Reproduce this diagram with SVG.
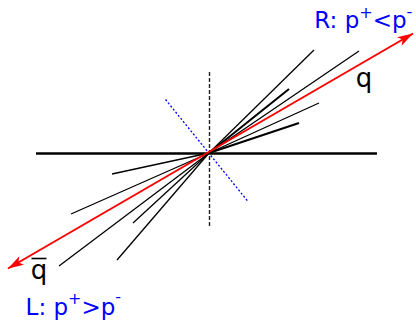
<svg xmlns="http://www.w3.org/2000/svg" width="416" height="325" viewBox="0 0 416 325">
<style>
.jet{stroke:#000;stroke-width:1.3;fill:none}
.jetb{stroke:#000;stroke-width:2;fill:none}
.lbl{font-family:"DejaVu Sans","Liberation Sans",sans-serif;font-size:23px}
.q{font-family:"DejaVu Sans","Liberation Sans",sans-serif;font-size:26px;fill:#000}
.blue{fill:#0000ff}
.sup{font-size:16px}
</style>
<defs>
<marker id="arr" viewBox="0 0 16 10" refX="16" refY="5" markerWidth="16" markerHeight="10" markerUnits="userSpaceOnUse" orient="auto-start-reverse">
<path d="M0,0 L16,5 L0,10 L4,5 Z" fill="#ff0000"/>
</marker>
</defs>
<g id="axes">
<line x1="36" y1="153.5" x2="377" y2="153.5" stroke="#000" stroke-width="2.5"/>
<line x1="209.5" y1="72" x2="209.5" y2="226" stroke="#222" stroke-width="1.4" stroke-dasharray="4,2"/>
<line x1="165.5" y1="99.5" x2="248" y2="201.5" stroke="#0000ff" stroke-width="1.3" stroke-dasharray="2,2"/>
</g>
<g id="jets">
<line class="jet" x1="209" y1="153" x2="314" y2="50"/>
<line class="jetb" x1="209" y1="153" x2="289" y2="89"/>
<line class="jet" x1="209" y1="153" x2="359" y2="51"/>
<line class="jet" x1="209" y1="153" x2="319" y2="103"/>
<line class="jetb" x1="209" y1="153" x2="299" y2="123"/>
<line class="jet" x1="209" y1="153" x2="112" y2="174"/>
<line class="jet" x1="209" y1="153" x2="71" y2="214"/>
<line class="jet" x1="209" y1="153" x2="59" y2="266"/>
<line class="jet" x1="209" y1="153" x2="133" y2="223"/>
<line class="jet" x1="209" y1="153" x2="117" y2="260"/>
</g>
<g id="connectors">
<line x1="8" y1="268.5" x2="413" y2="33.5" stroke="#ff0000" stroke-width="2" marker-start="url(#arr)" marker-end="url(#arr)"/>
</g>
<g id="label-R">
<text class="lbl blue" x="314.3" y="28">R: p<tspan class="sup" dy="-10">+</tspan><tspan dy="10">&lt;p</tspan><tspan class="sup" dy="-11">-</tspan></text>
</g>
<g id="label-q">
<text class="q" x="355.7" y="87.2">q</text>
</g>
<g id="label-qbar">
<text class="q" x="30.7" y="279">q</text>
<line x1="31.5" y1="258.5" x2="46.5" y2="258.5" stroke="#000" stroke-width="1.6"/>
</g>
<g id="label-L">
<text class="lbl blue" x="25.6" y="315">L: p<tspan class="sup" dy="-11">+</tspan><tspan dy="11">&gt;p</tspan><tspan class="sup" dy="-13">-</tspan></text>
</g>
</svg>
